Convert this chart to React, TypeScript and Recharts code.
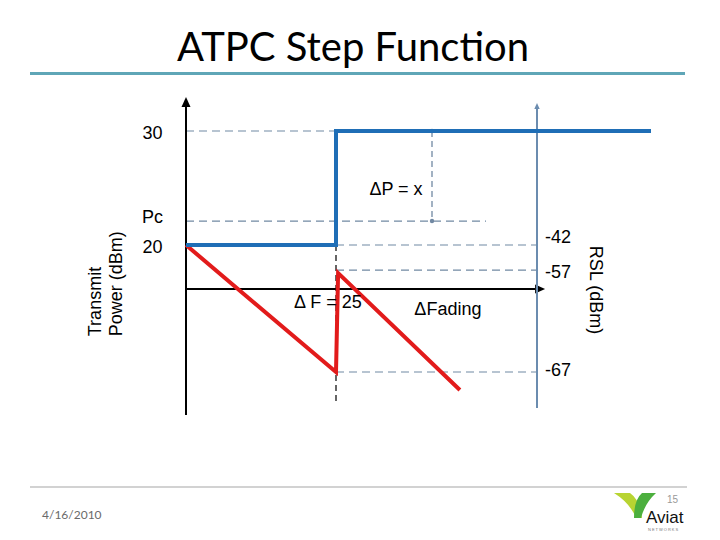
import React from 'react';
import { LineChart, Line, XAxis, YAxis, ReferenceLine, ReferenceDot } from 'recharts';

// schematic time axis (arbitrary units) and transmit power (dBm)
const txTime = [0, 5, 5, 15.5];
const txPower = [20, 20, 30, 30];
// received signal level, drawn against the same vertical scale
const rslTime = [0, 5, 5.07, 9.13];
const rslLevel = [20, 8.86, 17.54, 7.28];

const powerTickLabels = ['30', 'Pc', '20'];
const powerTickValues = [30, 22.1, 20];
const rslTickLabels = ['-42', '-57', '-67'];
const rslTickValues = [20, 17.8, 8.86];

const txData = txTime.map((x, i) => ({ x, y: txPower[i] }));
const rslData = rslTime.map((x, i) => ({ x, y: rslLevel[i] }));

const FONT = '"Liberation Sans", Arial, sans-serif';
const DASH = '#7189a3';

// line with an arrow head at its second point
const arrowShape = (color: string, width: number, head: number) => (p: any) => {
  const { x1, y1, x2, y2 } = p;
  const len = Math.hypot(x2 - x1, y2 - y1) || 1;
  const ux = (x2 - x1) / len;
  const uy = (y2 - y1) / len;
  const bx = x2 - ux * head;
  const by = y2 - uy * head;
  const hw = head * 0.45;
  return (
    <g>
      <line x1={x1} y1={y1} x2={bx} y2={by} stroke={color} strokeWidth={width} />
      <polygon
        points={`${x2},${y2} ${bx - uy * hw},${by + ux * hw} ${bx + uy * hw},${by - ux * hw}`}
        fill={color}
      />
    </g>
  );
};

// dashed line with small dots on both ends (the delta P marker)
const dimShape = (p: any) => {
  const { x1, y1, x2, y2 } = p;
  return (
    <g>
      <line x1={x1} y1={y1} x2={x2} y2={y2} stroke={DASH} strokeWidth={1.3} strokeDasharray="6 4" />
      <circle cx={x1} cy={y1} r={2.2} fill={DASH} />
      <circle cx={x2} cy={y2} r={2.2} fill={DASH} />
    </g>
  );
};

const textShape =
  (text: string, opts: { anchor?: string; angle?: number; dy?: number; size?: number } = {}) =>
  (p: any) => {
    const { cx, cy } = p;
    const { anchor = 'middle', angle = 0, dy = 0, size = 18 } = opts;
    return (
      <text
        x={cx}
        y={cy + dy}
        textAnchor={anchor}
        dominantBaseline="central"
        fontFamily={FONT}
        fontSize={size}
        fill="#000"
        transform={angle ? `rotate(${angle} ${cx} ${cy + dy})` : undefined}
      >
        {text}
      </text>
    );
  };

const Decorations = () => (
  <svg width={720} height={540} style={{ position: 'absolute', left: 0, top: 0 }}>
    <text x={353} y={61} textAnchor="middle" fontFamily="Lato, sans-serif" fontSize={40} fill="#000">
      ATPC Step Function
    </text>
    <rect x={30} y={72} width={655} height={3} fill="#5fa6b7" />
    <line x1={30} y1={487} x2={687} y2={487} stroke="#a5a5a5" strokeWidth={1} />
    <text x={42} y={519} fontFamily="Lato, sans-serif" fontSize={12} fill="#6a6a6a">
      4/16/2010
    </text>
    <path d="M614,493 L630,493 Q640,500 642,518 L636,518 Q630,503 614,493 Z" fill="#b8d432" />
    <path d="M656,493 L642,493 Q634,500 634,518 L641,518 Q645,503 656,493 Z" fill="#4caf3e" />
    <text x={646} y={523} fontFamily={FONT} fontSize={17} fill="#111">
      Aviat
    </text>
    <text x={667} y={503} fontFamily={FONT} fontSize={10} fill="#999">
      15
    </text>
    <text x={648} y={531} fontFamily={FONT} fontSize={4} fill="#777" letterSpacing={1}>
      NETWORKS
    </text>
  </svg>
);

export default function App() {
  return (
    <div style={{ position: 'absolute', left: 0, top: 0, width: 720, height: 540, background: '#fff' }}>
      <Decorations />
      <div style={{ position: 'absolute', left: 0, top: 0 }}>
        <LineChart width={720} height={540} margin={{ top: 0, right: 0, bottom: 0, left: 0 }}>
          <XAxis type="number" dataKey="x" domain={[-6.2, 17.8]} allowDataOverflow hide />
          <YAxis type="number" dataKey="y" domain={[-5.877, 41.491]} allowDataOverflow hide />

          {/* guide lines */}
          <ReferenceLine segment={[{ x: 0, y: 30 }, { x: 5, y: 30 }]} stroke={DASH} strokeWidth={1.2} strokeDasharray="8 5" />
          <ReferenceLine segment={[{ x: 0, y: powerTickValues[1] }, { x: 10, y: powerTickValues[1] }]} stroke={DASH} strokeWidth={1.2} strokeDasharray="8 5" />
          {rslTickValues.map((v) => (
            <ReferenceLine key={v} segment={[{ x: 5, y: v }, { x: 11.7, y: v }]} stroke={DASH} strokeWidth={1.2} strokeDasharray="8 5" />
          ))}
          <ReferenceLine segment={[{ x: 5, y: 30 }, { x: 5, y: 20 }]} stroke={DASH} strokeWidth={1.2} strokeDasharray="8 5" />
          <ReferenceLine segment={[{ x: 5, y: 20 }, { x: 5, y: 5.96 }]} stroke="#000" strokeWidth={1.2} strokeDasharray="6 4" />
          <ReferenceLine segment={[{ x: 8.2, y: 30 }, { x: 8.2, y: powerTickValues[1] }]} shape={dimShape} />

          {/* axes */}
          <ReferenceLine segment={[{ x: 0, y: 5.09 }, { x: 0, y: 32.98 }]} shape={arrowShape('#000', 2, 10)} />
          <ReferenceLine segment={[{ x: 0, y: 16.14 }, { x: 11.97, y: 16.14 }]} shape={arrowShape('#000', 2, 10)} />
          <ReferenceLine segment={[{ x: 11.7, y: 5.7 }, { x: 11.7, y: 32.46 }]} shape={arrowShape('#6b8caf', 2, 6)} />

          <Line data={rslData} dataKey="y" type="linear" stroke="#e21b1b" strokeWidth={4} dot={false} activeDot={false} isAnimationActive={false} />
          <Line data={txData} dataKey="y" type="linear" stroke="#1f6eb6" strokeWidth={4} dot={false} activeDot={false} isAnimationActive={false} />

          {/* text */}
          {powerTickLabels.map((t, i) => (
            <ReferenceDot key={t} x={-1.12} y={powerTickValues[i]} r={0} shape={textShape(t, { dy: t === 'Pc' ? -4 : 2 })} />
          ))}
          {rslTickLabels.map((t, i) => (
            <ReferenceDot key={t} x={11.97} y={rslTickValues[i]} r={0} shape={textShape(t, { anchor: 'start', dy: i === 0 ? -8 : i === 1 ? 2 : -2 })} />
          ))}
          <ReferenceDot x={7.0} y={24.91} r={0} shape={textShape('ΔP = x')} />
          <ReferenceDot x={4.73} y={15.0} r={0} shape={textShape('Δ F = 25')} />
          <ReferenceDot x={8.73} y={14.39} r={0} shape={textShape('ΔFading')} />
          <ReferenceDot x={-3.03} y={12.0} r={0} shape={textShape('Transmit', { anchor: 'start', angle: -90 })} />
          <ReferenceDot x={-2.33} y={12.0} r={0} shape={textShape('Power (dBm)', { anchor: 'start', angle: -90 })} />
          <ReferenceDot x={13.67} y={16.05} r={0} shape={textShape('RSL (dBm)', { angle: 90 })} />
        </LineChart>
      </div>
    </div>
  );
}
